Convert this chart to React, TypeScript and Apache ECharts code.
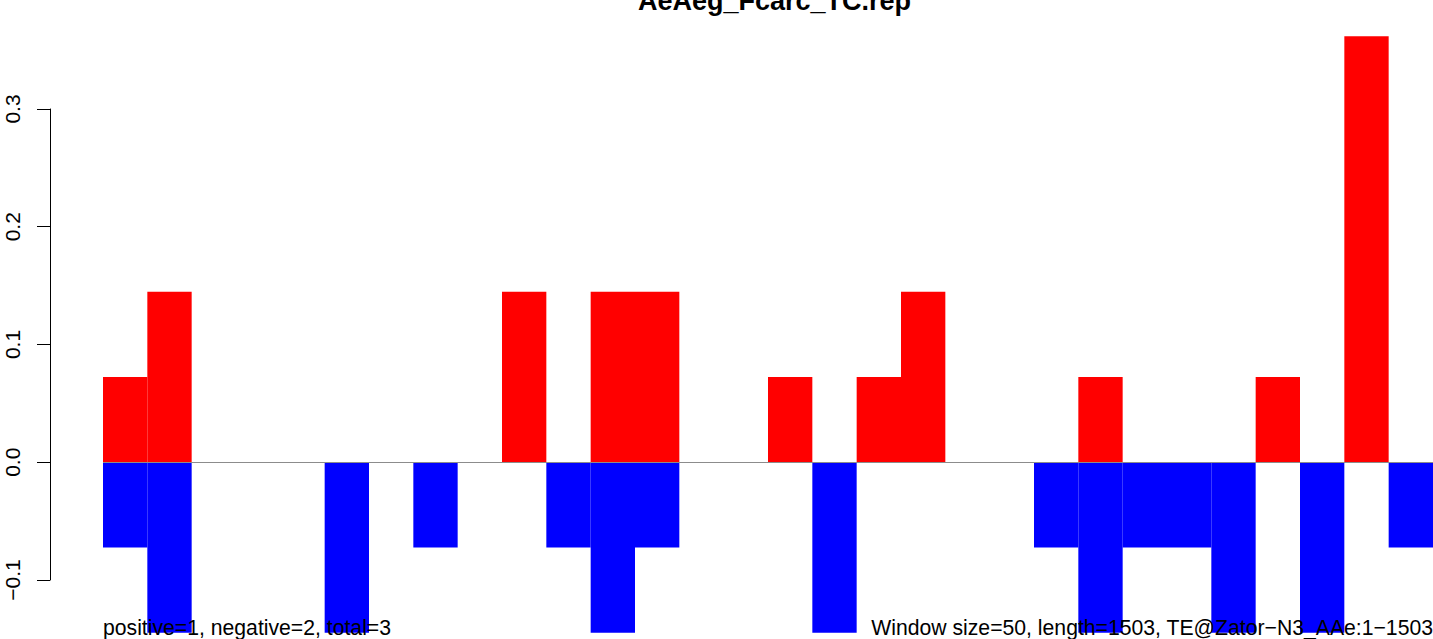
import React, { useEffect, useRef } from "react";
import * as echarts from "echarts";

const windows: string[] = Array.from({ length: 30 }, (_, i) => String(i + 1));
const positiveValues: number[] = [
  0.0723, 0.1447, 0, 0, 0, 0, 0, 0, 0, 0.1447,
  0, 0.1447, 0.1447, 0, 0, 0.0723, 0, 0.0723, 0.1447, 0,
  0, 0, 0.0723, 0, 0, 0, 0.0723, 0, 0.3617, 0,
];
const negativeValues: number[] = [
  -0.0723, -0.1447, 0, 0, 0, -0.1447, 0, -0.0723, 0, 0,
  -0.0723, -0.1447, -0.0723, 0, 0, 0, -0.1447, 0, 0, 0,
  0, -0.0723, -0.1447, -0.0723, -0.0723, -0.1447, 0, -0.1447, 0, -0.0723,
];
const yTicks: number[] = [-0.1, 0.0, 0.1, 0.2, 0.3];
const titleText = "AeAeg_Fcarc_TC.rep";
const leftNote = "positive=1, negative=2, total=3";
const rightNote = "Window size=50, length=1503, TE@Zator\u2212N3_AAe:1\u22121503";

const FONT = "'Liberation Sans', Arial, Helvetica, sans-serif";

export default function App() {
  const ref = useRef<HTMLDivElement>(null);
  useEffect(() => {
    if (!ref.current) return;
    const chart = echarts.init(ref.current, null, { renderer: "svg" });
    chart.setOption({
      animation: false,
      backgroundColor: "#ffffff",
      textStyle: { fontFamily: FONT },
      grid: { left: 103, right: 0, top: 109, bottom: 59, containLabel: false },
      xAxis: {
        type: "category",
        data: windows,
        show: false,
        boundaryGap: true,
      },
      yAxis: {
        type: "value",
        min: yTicks[0],
        max: yTicks[yTicks.length - 1],
        interval: 0.1,
        offset: 53,
        splitLine: { show: false },
        axisLine: { show: true, lineStyle: { color: "#000", width: 1 } },
        axisTick: { show: true, length: 13, lineStyle: { color: "#000", width: 1 } },
        axisLabel: {
          rotate: 90,
          margin: 27,
          fontSize: 21,
          color: "#000",
          fontFamily: FONT,
          formatter: (v: number) => v.toFixed(1).replace("-", "\u2212"),
        },
      },
      series: [
        {
          type: "line",
          data: [],
          z: 1,
          silent: true,
          markLine: {
            silent: true,
            symbol: "none",
            label: { show: false },
            lineStyle: { color: "#8c8c8c", width: 1, type: "solid" },
            data: [{ yAxis: 0 }],
          },
        },
        {
          type: "bar",
          name: "positive",
          data: positiveValues,
          z: 2,
          clip: false,
          barGap: "-100%",
          barCategoryGap: "0%",
          itemStyle: { color: "#ff0000" },
        },
        {
          type: "bar",
          name: "negative",
          data: negativeValues,
          z: 2,
          clip: false,
          barGap: "-100%",
          barCategoryGap: "0%",
          itemStyle: { color: "#0000ff" },
        },
      ],
      graphic: [
        {
          type: "text",
          x: 774.5,
          y: 14,
          z: 100,
          style: {
            text: titleText,
            fontFamily: FONT,
            fontWeight: "bold",
            fontSize: 27,
            fill: "#000",
            textAlign: "center",
            textVerticalAlign: "bottom",
          },
        },
        {
          type: "text",
          x: 103,
          y: 638,
          z: 100,
          style: {
            text: leftNote,
            fontFamily: FONT,
            fontSize: 21.2,
            fill: "#000",
            textAlign: "left",
            textVerticalAlign: "bottom",
          },
        },
        {
          type: "text",
          x: 1433,
          y: 638,
          z: 100,
          style: {
            text: rightNote,
            fontFamily: FONT,
            fontSize: 21.2,
            fill: "#000",
            textAlign: "right",
            textVerticalAlign: "bottom",
          },
        },
      ],
    });
    return () => chart.dispose();
  }, []);
  return (
    <div
      ref={ref}
      style={{ position: "absolute", left: 0, top: 0, width: 1433, height: 639 }}
    />
  );
}
